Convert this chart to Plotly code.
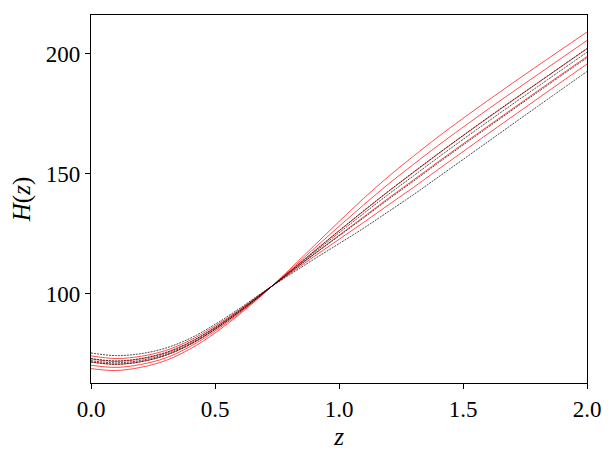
import plotly.graph_objects as go

z = [0.0, 0.1, 0.2, 0.3, 0.4, 0.5, 0.6, 0.7, 0.8, 0.9, 1.0, 1.1, 1.2, 1.3, 1.4, 1.6, 1.8, 2.0]

red_1 = [68.9, 68.1, 69.4, 72.2, 77.1, 83.7, 91.6, 100.4, 110.1, 120.1, 130.1, 139.8, 148.9, 157.3, 165.4, 180.5, 194.9, 209.0]
red_2 = [70.3, 69.4, 70.6, 73.3, 78.1, 84.5, 92.1, 100.6, 109.6, 118.9, 128.1, 137.1, 145.8, 153.9, 161.8, 176.8, 191.2, 205.5]
red_3 = [71.7, 70.7, 71.8, 74.4, 79.0, 85.2, 92.6, 100.7, 109.2, 117.7, 126.2, 134.5, 142.7, 150.5, 158.3, 173.2, 187.7, 202.0]
red_4 = [72.9, 71.9, 72.9, 75.4, 79.8, 85.9, 93.1, 100.9, 108.7, 116.6, 124.4, 132.1, 139.9, 147.4, 155.0, 169.8, 184.4, 198.8]
red_5 = [74.2, 73.1, 74.0, 76.4, 80.7, 86.6, 93.5, 101.1, 108.3, 115.6, 122.7, 129.8, 137.1, 144.3, 151.8, 166.6, 181.2, 195.7]

black_1 = [71.6, 70.7, 71.7, 74.4, 78.9, 85.2, 92.6, 100.7, 109.2, 117.8, 126.3, 134.7, 142.8, 150.7, 158.4, 173.4, 187.8, 202.2]
black_2 = [72.2, 71.3, 72.3, 74.9, 79.3, 85.5, 92.8, 100.8, 109.0, 117.2, 125.4, 133.5, 141.5, 149.1, 156.8, 171.7, 186.2, 200.6]
black_3 = [73.1, 72.1, 73.1, 75.6, 80.0, 86.0, 93.2, 100.9, 108.7, 116.5, 124.1, 131.7, 139.4, 146.9, 154.5, 169.3, 183.9, 198.3]
black_4 = [75.4, 74.3, 75.1, 77.4, 81.5, 87.3, 94.0, 101.2, 107.9, 114.5, 120.9, 127.4, 134.3, 141.3, 148.6, 163.3, 178.0, 192.6]

x_ticks = [0.0, 0.5, 1.0, 1.5, 2.0]
y_ticks = [100, 150, 200]

fig = go.Figure()
for ys in [red_1, red_2, red_3, red_4, red_5]:
    fig.add_trace(go.Scatter(x=z, y=ys, mode="lines", line=dict(color="#ff0000", width=0.7, shape="spline"), showlegend=False))
for ys in [black_1, black_2, black_3, black_4]:
    fig.add_trace(go.Scatter(x=z, y=ys, mode="lines", line=dict(color="black", width=0.7, dash="2px,1px", shape="spline"), showlegend=False))

font_family = "Liberation Serif, DejaVu Serif, serif"
# page body has an 8px default margin, so the figure is 8px smaller and shifted
fig.update_layout(
    width=606, height=451,
    margin=dict(l=83, r=27, t=7, b=76),
    plot_bgcolor="white", paper_bgcolor="white",
    font=dict(family=font_family, size=23, color="black"),
)
fig.update_xaxes(
    range=[0, 2], tickvals=x_ticks, ticktext=[f"{v:.1f}" for v in x_ticks],
    showgrid=False, zeroline=False, showline=True, linecolor="black", linewidth=1.2, mirror=True,
    ticks="outside", ticklen=5, tickwidth=1, tickcolor="black", automargin=False,
    title=dict(text="<i>z</i>", font=dict(size=25), standoff=6),
)
fig.update_yaxes(
    range=[62.9, 216.1], tickvals=y_ticks, ticktext=[str(v) for v in y_ticks],
    showgrid=False, zeroline=False, showline=True, linecolor="black", linewidth=1.2, mirror=True,
    ticks="outside", ticklen=5, tickwidth=1, tickcolor="black", automargin=False,
    title=dict(text="<i>H</i>(<i>z</i>)", font=dict(size=25), standoff=10),
)
fig.write_html("out.html")
